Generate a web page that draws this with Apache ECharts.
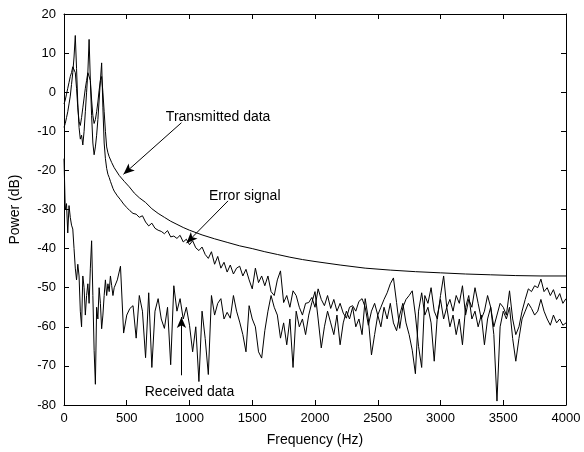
<!DOCTYPE html>
<html><head><meta charset="utf-8">
<script src="https://cdn.jsdelivr.net/npm/echarts@6/dist/echarts.min.js"></script>
<style>html,body{margin:0;padding:0;background:#fff}#c{width:584px;height:452px}</style>
</head><body><div id="c"></div>
<script>
// Frequency grid (Hz) for the noisy spectra
const freqs = [0,10,20,30,40,50,60,70,80,90,100,110,120,130,140,150,160,170,180,190,200,210,220,230,240,250,260,270,280,290,300,310,320,330,340,350,360,370,380,390,400,
425,450,475,500,525,550,575,600,625,650,675,700,725,750,775,800,825,850,875,900,925,950,975,1000,
1025,1050,1075,1100,1125,1150,1175,1200,1225,1250,1275,1300,1325,1350,1375,1400,1425,1450,1475,1500,1525,1550,1575,1600,1625,1650,1675,1700,1725,1750,1775,1800,1825,1850,1875,1900,1925,1950,1975,2000,
2025,2050,2075,2100,2125,2150,2175,2200,2225,2250,2275,2300,2325,2350,2375,2400,2425,2450,2475,2500,2525,2550,2575,2600,2625,2650,2675,2700,2725,2750,2775,2800,2825,2850,2875,2900,2925,2950,2975,3000,
3025,3050,3075,3100,3125,3150,3175,3200,3225,3250,3275,3300,3325,3350,3375,3400,3425,3450,3475,3500,3525,3550,3575,3600,3625,3650,3675,3700,3725,3750,3775,3800,3825,3850,3875,3900,3925,3950,3975,4000];

// Error signal (dB)
const errorSignal = [-9,-8,-6.5,-5,-3,-1,2,5,9,14.5,6,-3,-9,-12,-11,-13.5,-10,-5,0,5,13.5,3,-6,-13,-16,-14,-11,-7,-2,3,7.5,-4,-13,-17,-19.5,-21,-21.8,-22.8,-23.7,-24.6,-25.3,
-26.5,-27.5,-28.6,-29.5,-30.3,-31,-31.2,-32,-31.6,-33.2,-34.2,-33.5,-34.8,-35.3,-35.6,-36.2,-35.4,-37,-36.8,-37.4,-36.6,-38.3,-37.6,-39,
-38,-39.8,-40.5,-39.6,-41.5,-42.5,-40.8,-44,-42,-45,-43.5,-46,-44.2,-46.5,-45,-44.5,-47,-45.3,-48,-50.3,-45,-48.7,-47,-49.5,-47,-51,-52,-48,-45.7,-53.8,-52,-55,-50.8,-52,-55,-57,-54,-53.8,-52.5,-55,
-50.3,-53,-54.6,-52,-55.3,-53,-56,-54,-56.5,-57.8,-55,-54.6,-56,-53.5,-52.8,-55,-59.6,-56,-54,-57,-55,-53,-51.3,-49,-47.5,-53.8,-60.4,-55,-53,-52,-50.8,-57,-65,-70.4,-52,-54,-50,-56,-58,-52,
-47,-55,-53,-56,-52,-54,-49.5,-57,-53,-55,-50,-54,-58,-56,-52,-55,-60,-57,-54,-55,-57,-50.8,-58,-62,-60,-56,-53,-50.3,-51,-49.5,-50,-47.8,-51,-50,-52,-50.5,-53,-51.5,-54,-52.8];

// Received data (dB)
const receivedData = [-17,-30,-28.5,-36,-29,-32,-34,-35,-40,-45,-48,-44,-47,-56,-60,-47,-50,-57,-52,-49,-54,-45,-38,-52,-66,-74.7,-55,-58,-50,-54,-60.5,-57,-52,-48,-52,-49,-51,-47,-49.5,-52,-50,
-48,-44.5,-61.6,-57,-55.3,-54.6,-62.9,-52,-56,-67.9,-51.3,-70.4,-56,-52.8,-58,-60.4,-55,-69.7,-49.5,-56,-52.8,-58,-55,-59.6,
-66.4,-60,-74,-56,-63,-72.2,-52,-57,-54,-52.8,-58,-56.3,-57.8,-52,-56,-58.8,-62,-66.4,-54.6,-58,-60,-66.4,-68,-61,-56,-52,-55,-57,-62.9,-59,-64.6,-58,-70.4,-56,-60,-58,-62,-57,-53.8,-51,
-58,-65.4,-60,-56,-59,-62,-57,-64.6,-59,-56,-58,-55,-60,-58,-62,-52.8,-58,-67.2,-62,-57,-60,-55,-58,-54,-59,-61,-57,-54,-59,-62,-66,-72,-56,-51.3,-57,-55,-59,-68.8,-57,-53,
-58,-55,-60,-57,-62,-58,-64.6,-55,-52,-58,-56,-60,-57,-64.6,-58,-55,-62,-79,-60,-56,-58,-55,-63,-68.8,-63,-58,-56,-54,-55.3,-57,-56,-53,-56,-58,-59.6,-57,-59,-58,-59.6,-59];

// Transmitted data
const transFreqs = [0,10,20,30,40,50,60,70,80,90,100,110,120,130,140,150,160,170,180,190,200,210,220,230,240,250,260,270,280,290,300,310,320,330,340,350,
360,380,400,440,480,520,560,600,650,700,750,800,850,900,950,1000,1100,1200,1300,1400,1500,1600,1700,1800,1900,2000,2200,2400,2600,2800,3000,3200,3400,3600,3800,4000];
const transmittedData = [-3,-2,-0.5,1,2.5,4,5,6.5,7,5,1,-4,-7.5,-8.5,-6.5,-4,-1.5,1,3,5,5.5,3,-2,-6,-8,-7,-5,-2.5,0.5,3,4,0,-5,-10,-14,-15.5,
-16.5,-18,-19.3,-21.3,-22.8,-24.2,-25.8,-27,-28.2,-29.8,-31,-32,-33,-33.8,-34.6,-35.3,-36.5,-37.5,-38.4,-39.3,-40,-40.8,-41.5,-42.2,-42.8,-43.3,-44.2,-45,-45.5,-45.9,-46.2,-46.5,-46.7,-46.9,-47,-47];

// Axis ranges / ticks
const xRange = [0, 4000], xStep = 500;
const yRange = [-80, 20], yStep = 10;

// Annotations: label position and arrow (data coordinates)
const annotations = [
  {text:'Transmitted data', at:[1228,-6.3], from:[936,-7.8], to:[474,-21]},
  {text:'Error signal', at:[1440,-26.6], from:[1307,-27.8], to:[976,-38.6]},
  {text:'Received data', at:[1000,-76.6], from:[936,-72.4], to:[936,-57.5]}
];

const pair = (xs, ys) => xs.map((x, i) => [x, ys[i]]);
const FONT = 'Liberation Sans, Arial, sans-serif';
const lineStyleBase = {color:'#000', width:1};

const chart = echarts.init(document.getElementById('c'), null, {renderer:'canvas'});
const axisCommon = {
  axisLine:{show:true, onZero:false, lineStyle:{color:'#000', width:1}},
  axisTick:{show:true, inside:true, length:5, lineStyle:{color:'#000'}},
  splitLine:{show:false}
};
chart.setOption({
  animation:false,
  backgroundColor:'#fff',
  grid:{left:62, right:18, top:14, bottom:41},
  xAxis:[
    Object.assign({type:'value', min:xRange[0], max:xRange[1], interval:xStep, position:'bottom',
      name:'Frequency (Hz)', nameLocation:'middle', nameGap:28,
      nameTextStyle:{color:'#000', fontSize:14, fontFamily:FONT},
      axisLabel:{color:'#000', fontSize:13, fontFamily:FONT, margin:7, formatter:v => String(v)}}, axisCommon),
    Object.assign({type:'value', min:xRange[0], max:xRange[1], interval:xStep, position:'top',
      axisLabel:{show:false}}, axisCommon)
  ],
  yAxis:[
    Object.assign({type:'value', min:yRange[0], max:yRange[1], interval:yStep, position:'left',
      name:'Power (dB)', nameLocation:'middle', nameGap:42,
      nameTextStyle:{color:'#000', fontSize:14, fontFamily:FONT},
      axisLabel:{color:'#000', fontSize:13, fontFamily:FONT, margin:8, formatter:v => String(v)}}, axisCommon),
    Object.assign({type:'value', min:yRange[0], max:yRange[1], interval:yStep, position:'right',
      axisLabel:{show:false}}, axisCommon)
  ],
  series:[
    {name:'Received data', type:'line', data:pair(freqs, receivedData), showSymbol:false, lineStyle:lineStyleBase, z:2},
    {name:'Error signal', type:'line', data:pair(freqs, errorSignal), showSymbol:false, lineStyle:lineStyleBase, z:3},
    {name:'Transmitted data', type:'line', data:pair(transFreqs, transmittedData), showSymbol:false, lineStyle:lineStyleBase, z:4},
    {name:'annotations', type:'line', data:[], z:5,
      markLine:{silent:true, symbol:['none','arrow'], symbolSize:[7,11], precision:4,
        lineStyle:{color:'#000', width:1, type:'solid'}, label:{show:false},
        data:annotations.map(a => [{coord:a.from}, {coord:a.to}])},
      markPoint:{silent:true, symbol:'circle', symbolSize:0,
        label:{show:true, position:'inside', color:'#000', fontSize:14, fontFamily:FONT, formatter:'{b}'},
        data:annotations.map(a => ({name:a.text, coord:a.at}))}
    }
  ]
});
</script>
</body></html>
